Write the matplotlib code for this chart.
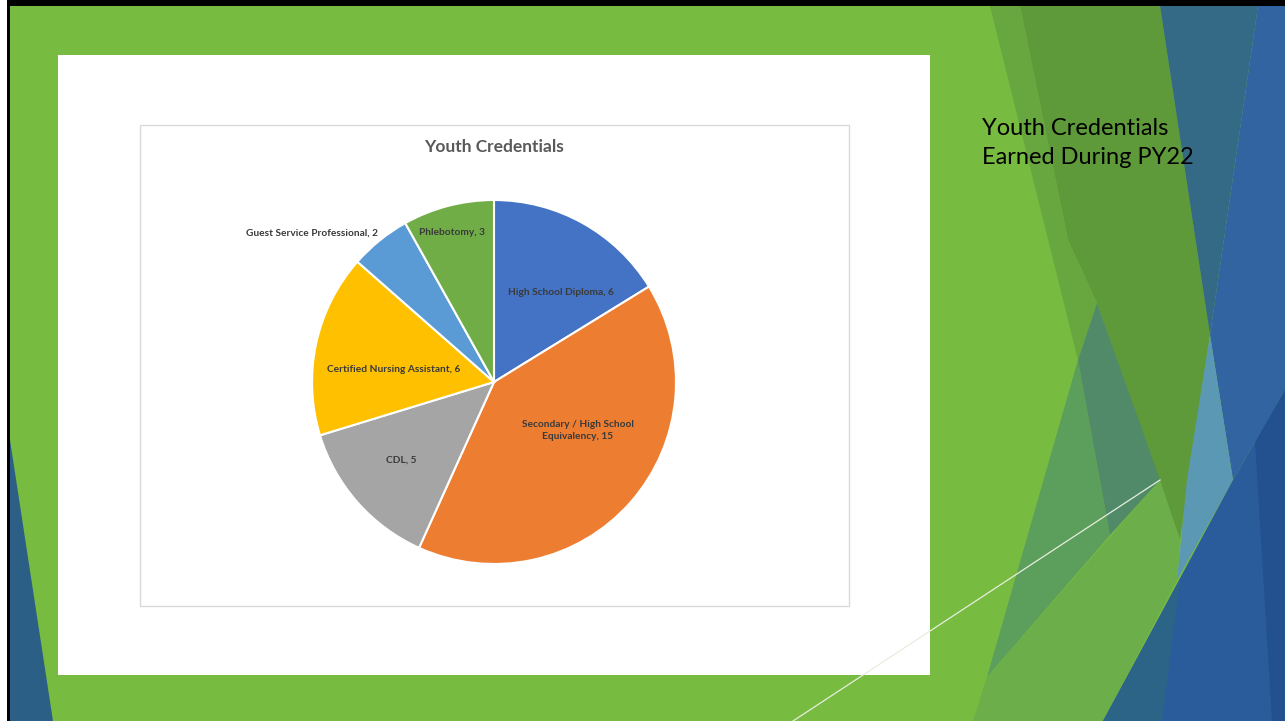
import matplotlib.pyplot as plt
from matplotlib.patches import Polygon, Rectangle

# Chart data
credentials = ["High School Diploma", "Secondary / High School\nEquivalency", "CDL",
               "Certified Nursing Assistant", "Guest Service Professional", "Phlebotomy"]
counts = [6, 15, 5, 6, 2, 3]
slice_colors = ["#4472C4", "#ED7D31", "#A5A5A5", "#FFC000", "#5B9BD5", "#70AD47"]

chart_title = "Youth Credentials"
slide_title = "Youth Credentials\nEarned During PY22"

# label anchors relative to pie centre (in radius units) and alignment
label_pos = [(0.37, 0.49), (0.46, -0.265), (-0.51, -0.43), (-0.55, 0.07), (-0.64, 0.82), (-0.23, 0.82)]
label_ha = ["center", "center", "center", "center", "right", "center"]

W, H = 1285, 721
fig = plt.figure(figsize=(W / 100, H / 100), dpi=100)
fig.patch.set_facecolor("white")

# background axes in pixel coordinates (y down)
bg = fig.add_axes([0, 0, 1, 1])
bg.set_xlim(0, W)
bg.set_ylim(H, 0)
bg.axis("off")

# slide frame
bg.add_patch(Rectangle((7, 0), W - 7, H, color="black", lw=0))
bg.add_patch(Rectangle((10, 6), W - 10, H - 6, color="#77BB41", lw=0))

# decorative facets of the theme
facets = [
    ([(10, 440), (10, 721), (53, 721)], "#2C5F85"),
    ([(1020, 6), (1160, 6), (1210, 335), (1180, 540), (1097, 303), (1068, 240)], "#5E9A3A"),
    ([(990, 6), (1020, 6), (1068, 240), (1097, 303), (1078, 360)], "#68A640"),
    ([(1078, 360), (987, 677), (1110, 535)], "#5C9E5C"),
    ([(1078, 360), (1097, 303), (1160, 480), (1110, 535)], "#508A68"),
    ([(987, 677), (1160, 480), (1180, 540), (1177, 580), (1103, 721), (973, 721)], "#6CAF4A"),
    ([(1160, 6), (1258, 6), (1210, 335)], "#356A86"),
    ([(1258, 6), (W, 6), (W, 390), (1233, 480), (1210, 335)], "#3264A2"),
    ([(1210, 335), (1233, 480), (1177, 580), (1187, 480)], "#5B98B4"),
    ([(W, 390), (W, H), (1103, H), (1233, 480)], "#2A5C9C"),
    ([(1255, 442), (W, 390), (W, H), (1272, H)], "#23508E"),
    ([(1103, H), (1162, H), (1180, 580)], "#2C6488"),
]
for pts, col in facets:
    bg.add_patch(Polygon(pts, closed=True, color=col, lw=0))

bg.plot([793, 1160], [H, 480], color="#E6EEDD", lw=0.9)

# white panel with the chart
bg.add_patch(Rectangle((58, 55), 872, 620, color="white", lw=0))
bg.add_patch(Rectangle((140, 125), 709, 481, facecolor="white", edgecolor="#D9D9D9", lw=1))

bg.text(494, 147, chart_title, ha="center", va="center", fontsize=12.5,
        fontweight="bold", color="#595959", family="Lato")

bg.text(982, 143, slide_title, ha="left", va="center", fontsize=17,
        color="black", family="Lato", linespacing=1.45)

# pie axes: centre (494, 382), radius 182 px
cx, cy, r = 494, 382, 182
ax = fig.add_axes([(cx - r) / W, (H - cy - r) / H, 2 * r / W, 2 * r / H])
ax.pie(counts, colors=slice_colors, startangle=90, counterclock=False,
       wedgeprops=dict(edgecolor="white", linewidth=1.5))
ax.set_xlim(-1, 1)
ax.set_ylim(-1, 1)
ax.set_aspect("equal")
ax.axis("off")

for name, val, (x, y), ha in zip(credentials, counts, label_pos, label_ha):
    ax.text(x, y, f"{name}, {val}", ha=ha, va="center", fontsize=7.3,
            fontweight="bold", color="#3A3A3A", family="Lato", linespacing=1.4)

fig.savefig("out.png", dpi=100)
